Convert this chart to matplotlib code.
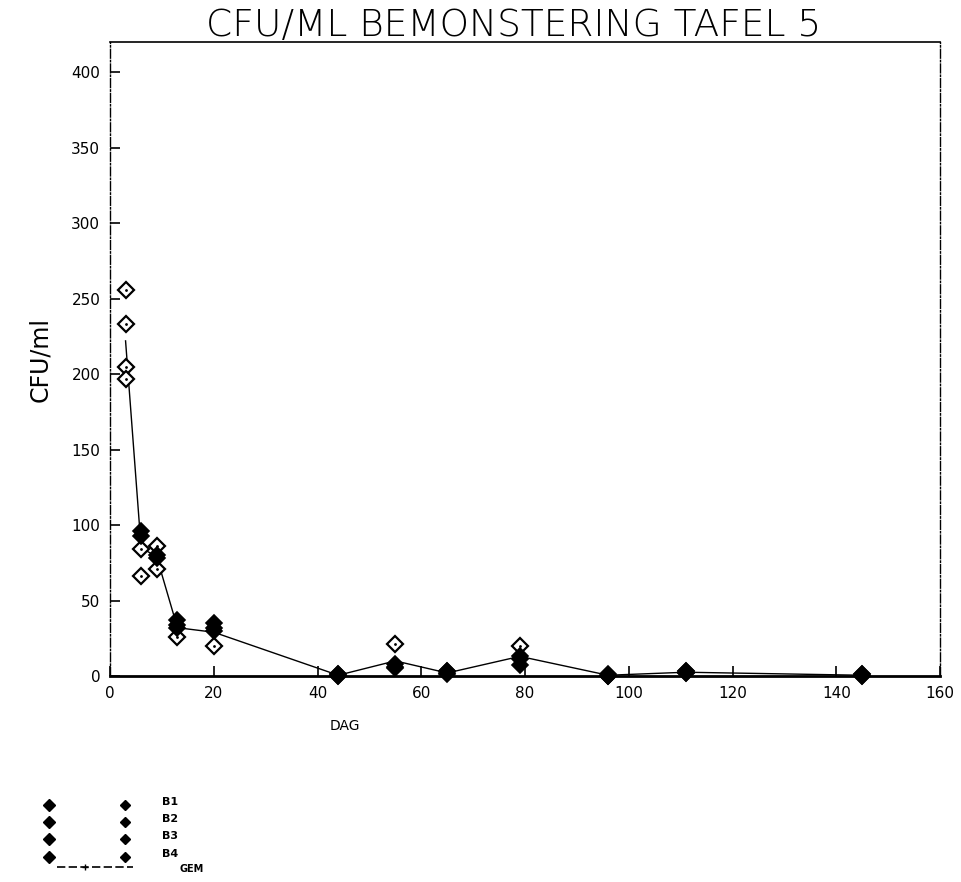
import matplotlib.pyplot as plt
from matplotlib.lines import Line2D

# sample days and the four sample series (CFU/ml)
dag = [3, 6, 9, 13, 20, 44, 55, 65, 79, 96, 111, 145]
b1 = [256, 96, 86, 37, 35, 1, 21, 3, 20, 0, 3, 1]
b2 = [233, 93, 80, 34, 32, 0, 8, 2, 13, 0, 2, 0]
b3 = [205, 84, 78, 32, 30, 1, 6, 3, 11, 1, 3, 1]
b4 = [197, 66, 71, 26, 20, 0, 5, 1, 7, 0, 2, 0]
gem = [222, 85, 79, 32, 29, 0.5, 10, 2, 13, 0.5, 2.5, 0.5]

series = [b1, b2, b3, b4]
namen = ['B1', 'B2', 'B3', 'B4']

W, H = 961, 882
fig = plt.figure(figsize=(W / 100, H / 100), dpi=100)
ax = fig.add_axes([110 / W, 1 - 676 / H, 830 / W, 634 / H])

ax.plot(dag, gem, color='black', lw=1.0, zorder=2)

# markers that sit on top of a neighbour look filled in the original plot
for i, d in enumerate(dag):
    vals = [s[i] for s in series]
    for j, v in enumerate(vals):
        close = any(abs(v - w) <= 4 for k, w in enumerate(vals) if k != j)
        if close:
            ax.plot(d, v, marker='D', ms=8, mfc='black', mec='black',
                    mew=1.2, clip_on=False, zorder=4)
        else:
            ax.plot(d, v, marker='D', ms=8, mfc='white', mec='black',
                    mew=1.6, clip_on=False, zorder=3)
            ax.plot(d, v, marker='.', ms=2, color='black', clip_on=False,
                    zorder=3)

ax.set_xlim(0, 160)
ax.set_ylim(0, 420)
ax.set_xticks(range(0, 161, 20))
ax.set_yticks(range(0, 401, 50))
ax.tick_params(direction='in', length=7, width=1.2, labelsize=11, pad=7)

ax.spines['left'].set_linestyle('-.')
ax.spines['left'].set_linewidth(1.0)
ax.spines['right'].set_linestyle('-.')
ax.spines['right'].set_linewidth(1.0)
ax.spines['top'].set_linewidth(1.2)
ax.spines['bottom'].set_linewidth(2.0)

ax.set_ylabel('CFU/ml', fontsize=17, labelpad=14)
fig.text(345 / W, 1 - 726 / H, 'DAG', fontsize=10, ha='center',
         va='center')
fig.text(514 / W, 1 - 36 / H, 'CFU/ML BEMONSTERING TAFEL 5', fontsize=27,
         ha='center', va='baseline', fontweight='light')

# legend block at the bottom left, drawn by hand like the plotter legend
ys = [805, 822, 839, 857]
for naam, y in zip(namen, ys):
    fy = 1 - y / H
    fig.add_artist(Line2D([49 / W], [fy], marker='D', ms=6, color='black',
                          transform=fig.transFigure))
    fig.add_artist(Line2D([125 / W], [fy], marker='D', ms=5, color='black',
                          transform=fig.transFigure))
    fig.text(162 / W, fy + 3 / H, naam, fontsize=8, va='center',
             fontweight='bold')
fy = 1 - 867 / H
fig.add_artist(Line2D([57 / W, 133 / W], [fy, fy], color='black', lw=1.2,
                      ls=(0, (5, 2)), transform=fig.transFigure))
fig.add_artist(Line2D([85 / W], [fy], marker='+', ms=5, color='black',
                      transform=fig.transFigure))
fig.text(180 / W, 1 - 869 / H, 'GEM', fontsize=7, va='center',
         fontweight='bold')

fig.savefig('out.png', dpi=100)
